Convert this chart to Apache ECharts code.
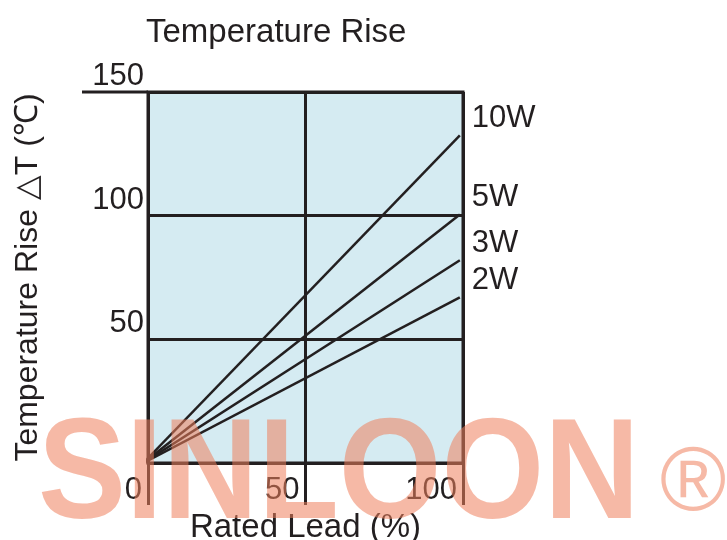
<!DOCTYPE html>
<html>
<head>
<meta charset="utf-8">
<script src="https://cdn.jsdelivr.net/npm/echarts@6/dist/echarts.min.js"></script>
<style>
  html, body { margin: 0; padding: 0; background: #fff; }
  #chart { width: 727px; height: 540px; }
</style>
</head>
<body>
<div id="chart"></div>
<script>
// values: [rated load %, temperature rise]
const seriesNames = ['2W', '3W', '5W', '10W'];
const load = [-1.5, 99];
const rise2W = [0, 67];
const rise3W = [0, 82];
const rise5W = [0, 100.5];
const rise10W = [0, 132.5];
const xTicks = [0, 50, 100];
const yTicks = [0, 50, 100, 150];

const ink = '#231f20';
const font = '"Liberation Sans", Arial, sans-serif';
const stamp = 'rgba(239,128,93,0.55)';

const chart = echarts.init(document.getElementById('chart'));

function makeLine(name, rise) {
  return {
    name: name,
    type: 'line',
    data: load.map((x, i) => [x, rise[i]]),
    clip: false,
    symbol: 'none',
    silent: true,
    lineStyle: { color: ink, width: 2.5 },
    endLabel: {
      show: true,
      formatter: '{a}',
      distance: 12,
      offset: [0, -17],
      color: ink,
      fontSize: 31,
      fontFamily: font
    },
    z: 3
  };
}

const options = {
  animation: false,
  backgroundColor: '#fff',
  title: {
    text: 'Temperature Rise',
    left: 141,
    top: 11,
    textStyle: { color: ink, fontSize: 33, fontWeight: 'normal', fontFamily: font }
  },
  grid: {
    left: 148,
    top: 92,
    width: 315,
    height: 371,
    outerBoundsMode: 'none',
    containLabel: false,
    show: true,
    backgroundColor: '#d5ebf2',
    borderColor: ink,
    borderWidth: 3
  },
  xAxis: {
    type: 'value',
    min: xTicks[0],
    max: xTicks[xTicks.length - 1],
    interval: 50,
    name: 'Rated Lead (%)',
    nameLocation: 'middle',
    nameGap: 48,
    nameTextStyle: { color: ink, fontSize: 33, fontFamily: font },
    axisLine: { show: true, lineStyle: { color: ink, width: 3 } },
    axisTick: { show: true, length: 42, lineStyle: { color: ink, width: 3 } },
    axisLabel: {
      color: ink,
      fontSize: 31,
      fontFamily: font,
      align: 'right',
      padding: [0, 6, 0, 0],
      margin: 12
    },
    splitLine: { show: true, lineStyle: { color: ink, width: 3 } }
  },
  yAxis: {
    type: 'value',
    min: yTicks[0],
    max: yTicks[yTicks.length - 1],
    interval: 50,
    name: 'Temperature Rise \u25B3T (\u2103)',
    nameLocation: 'middle',
    nameGap: 104,
    nameTextStyle: { color: ink, fontSize: 32, fontFamily: font },
    axisLine: { show: false },
    axisTick: { show: false },
    axisLabel: {
      showMinLabel: false,
      color: ink,
      fontSize: 31,
      fontFamily: font,
      verticalAlign: 'bottom',
      margin: 4,
      padding: [0, 0, 0, 0]
    },
    splitLine: { show: true, lineStyle: { color: ink, width: 3 } }
  },
  series: [
    makeLine(seriesNames[0], rise2W),
    makeLine(seriesNames[1], rise3W),
    makeLine(seriesNames[2], rise5W),
    makeLine(seriesNames[3], rise10W)
  ],
  graphic: [
    {
      id: 'brand',
      type: 'text',
      x: 38,
      y: 408,
      scaleX: 0.93,
      z: 100,
      silent: true,
      style: {
        text: 'SINLOON',
        font: 'bold 142px ' + font,
        fill: stamp,
        verticalAlign: 'top'
      }
    },
    {
      id: 'reg',
      type: 'text',
      x: 660,
      y: 440,
      z: 100,
      silent: true,
      style: {
        text: '\u00AE',
        font: '90px ' + font,
        fill: stamp,
        verticalAlign: 'top'
      }
    }
  ]
};

chart.setOption(options);

// the 150 line runs out to the left of the plot
const topLeft = chart.convertToPixel({ gridIndex: 0 }, [xTicks[0], yTicks[yTicks.length - 1]]);
chart.setOption({
  graphic: [{
    id: 'top150',
    type: 'line',
    z: 5,
    silent: true,
    shape: { x1: topLeft[0] - 66, y1: topLeft[1], x2: topLeft[0], y2: topLeft[1] },
    style: { stroke: ink, lineWidth: 3 }
  }]
});
</script>
</body>
</html>
